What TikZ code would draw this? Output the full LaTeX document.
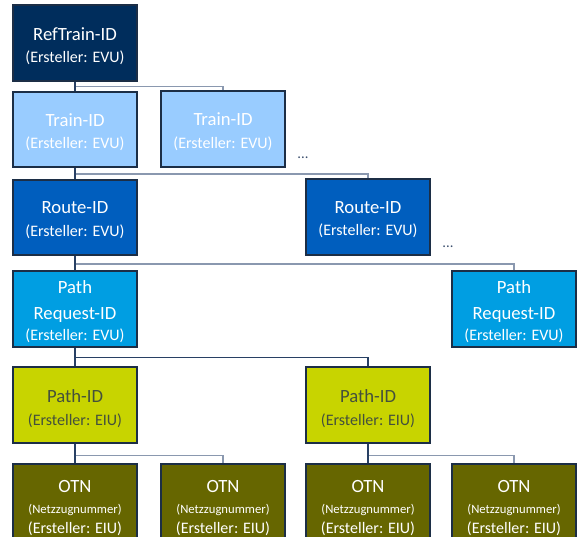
\documentclass[tikz,border=0pt]{standalone}
\usepackage{fontspec}
\setmainfont{Carlito}
\definecolor{cRef}{RGB}{0,45,92}
\definecolor{cTrain}{RGB}{153,204,255}
\definecolor{cRoute}{RGB}{0,94,190}
\definecolor{cPReq}{RGB}{0,158,226}
\definecolor{cPath}{RGB}{200,212,0}
\definecolor{cOTN}{RGB}{102,102,0}
\definecolor{cBorder}{RGB}{28,46,70}
\definecolor{cStem}{RGB}{40,64,100}
\definecolor{cBranch}{RGB}{138,152,175}
\definecolor{cPathText}{RGB}{68,80,60}
\definecolor{cDots}{RGB}{60,80,110}
\newcommand{\subtxt}[1]{{\fontsize{12}{14}\selectfont #1}}
\newcommand{\netzfont}{\fontsize{9.5}{11}\selectfont}
\newcommand{\ttl}[2][4pt]{\raisebox{0pt}[\dimexpr\height+#1\relax]{#2}}
\begin{document}
\begin{tikzpicture}[x=0.75pt,y=-0.75pt,
  box/.style={draw=cBorder,line width=1.3pt,minimum width=93pt,minimum height=56.5pt,
    align=center,text=white,inner sep=0pt,font=\fontsize{14}{19}\selectfont},
  otnbox/.style={box,fill=cOTN,minimum height=66pt},
  stem/.style={draw=cStem,line width=1pt},
  branch/.style={draw=cBranch,line width=1.4pt},
  dots/.style={text=cDots,font=\fontsize{11}{12}\selectfont,inner sep=0pt}]
\useasboundingbox (0,0) rectangle (581,536);
\clip (0,0) rectangle (581,536);
% level 1
\node[box,fill=cRef] (ref) at (75,43) {\ttl[5pt]{RefTrain-ID}\\[-2pt]\subtxt{(Ersteller: EVU)}};
% level 2
\node[box,fill=cTrain] (tr1) at (75,129.5) {\ttl{Train-ID}\\[-2pt]\subtxt{(Ersteller: EVU)}};
\node[box,fill=cTrain] (tr2) at (223,129) {\ttl{Train-ID}\\[-2pt]\subtxt{(Ersteller: EVU)}};
\node[dots] (d1) at (303,158) {...};
% level 3
\node[box,fill=cRoute] (ro1) at (75,217.5) {\ttl{Route-ID}\\[-2pt]\subtxt{(Ersteller: EVU)}};
\node[box,fill=cRoute] (ro2) at (368,217) {\ttl{Route-ID}\\[-2pt]\subtxt{(Ersteller: EVU)}};
\node[dots] (d2) at (448,247) {...};
% level 4
\node[box,fill=cPReq] (pr1) at (75,309) {\ttl{Path}\\Request-ID\\[-3pt]\subtxt{(Ersteller: EVU)}};
\node[box,fill=cPReq] (pr2) at (514,309) {\ttl{Path}\\Request-ID\\[-3pt]\subtxt{(Ersteller: EVU)}};
% level 5
\node[box,fill=cPath,text=cPathText] (pa1) at (75,405) {\ttl[5pt]{Path-ID}\\[-2pt]\subtxt{(Ersteller: EIU)}};
\node[box,fill=cPath,text=cPathText] (pa2) at (368,405) {\ttl[5pt]{Path-ID}\\[-2pt]\subtxt{(Ersteller: EIU)}};
% level 6
\node[otnbox,anchor=north] (o1) at (75,463) {\ttl[0pt]{OTN}\\[-3pt]{\netzfont (Netzzugnummer)}\\[-4.5pt]\subtxt{(Ersteller: EIU)}};
\node[otnbox,anchor=north] (o2) at (223,463) {\ttl[0pt]{OTN}\\[-3pt]{\netzfont (Netzzugnummer)}\\[-4.5pt]\subtxt{(Ersteller: EIU)}};
\node[otnbox,anchor=north] (o3) at (368,463) {\ttl[0pt]{OTN}\\[-3pt]{\netzfont (Netzzugnummer)}\\[-4.5pt]\subtxt{(Ersteller: EIU)}};
\node[otnbox,anchor=north] (o4) at (514,463) {\ttl[0pt]{OTN}\\[-3pt]{\netzfont (Netzzugnummer)}\\[-4.5pt]\subtxt{(Ersteller: EIU)}};
% connectors
\draw[branch] (ref.south) ++(0,5) -| (tr2.north);
\draw[stem] (ref.south) -- (tr1.north);
\draw[branch] (tr1.south) ++(0,6) -| (ro2.north);
\draw[stem] (tr1.south) -- (ro1.north);
\draw[branch] (ro1.south) ++(0,8) -| (pr2.north);
\draw[stem] (ro1.south) -- (pr1.north);
\draw[stem] (pr1.south) -- ++(0,10) -| (pa2.north);
\draw[stem] (pr1.south) -- (pa1.north);
\draw[branch] (pa1.south) ++(0,12) -| (o2.north);
\draw[stem] (pa1.south) -- (o1.north);
\draw[branch] (pa2.south) ++(0,12) -| (o4.north);
\draw[stem] (pa2.south) -- (o3.north);
\end{tikzpicture}
\end{document}
